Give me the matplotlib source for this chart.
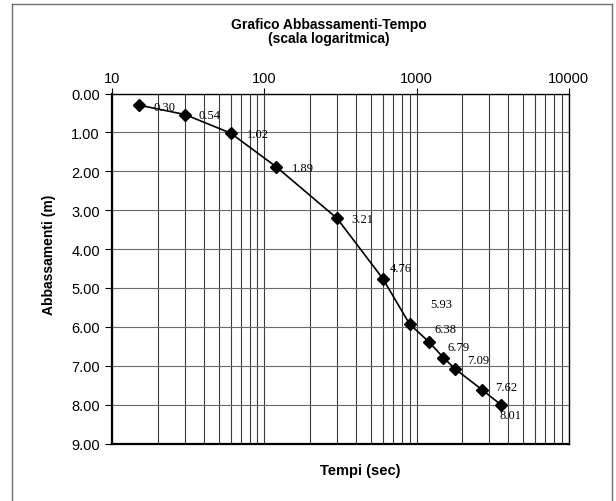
import matplotlib
matplotlib.use("Agg")
import matplotlib.pyplot as plt
from matplotlib.ticker import FixedLocator, FuncFormatter, LogLocator, NullFormatter
from matplotlib.lines import Line2D

# ---- data ----
tempi_sec = [15, 30, 60, 120, 300, 600, 900, 1200, 1500, 1800, 2700, 3600]
abbassamenti_m = [0.30, 0.54, 1.02, 1.89, 3.21, 4.76, 5.93, 6.38, 6.79, 7.09, 7.62, 8.01]
x_ticks = [10, 100, 1000, 10000]
y_ticks = [0, 1, 2, 3, 4, 5, 6, 7, 8, 9]

title_line1 = "Grafico Abbassamenti-Tempo"
title_line2 = "(scala logaritmica)"
x_title = "Tempi (sec)"
y_title = "Abbassamenti (m)"

# label offsets in pixels (dx right, dy up) -- layout only
label_offsets = [(14, -2), (14, -1), (16, -1), (15, -1), (14, -1), (7, 11),
                 (21, 20), (6, 13), (4, 11), (12, 9), (13, 3), (-2, -10)]

W, H = 616, 502
fig = plt.figure(figsize=(W / 100, H / 100), dpi=100)
fig.patch.set_facecolor("white")

ax_l, ax_r, ax_t, ax_b = 112.3, 568.7, 94.5, 444.5
ax = fig.add_axes([ax_l / W, 1 - ax_b / H, (ax_r - ax_l) / W, (ax_b - ax_t) / H])

ax.set_xscale("log")
ax.set_xlim(10, 10000)
ax.set_ylim(9, 0)

ax.xaxis.set_major_locator(FixedLocator(x_ticks))
ax.xaxis.set_major_formatter(FuncFormatter(lambda v, p: f"{int(round(v))}"))
ax.xaxis.set_minor_locator(LogLocator(base=10, subs=range(2, 10)))
ax.xaxis.set_minor_formatter(NullFormatter())
ax.yaxis.set_major_locator(FixedLocator(y_ticks))
ax.yaxis.set_major_formatter(FuncFormatter(lambda v, p: f"{v:.2f}"))

ax.xaxis.tick_top()
ax.tick_params(axis="x", which="major", direction="out", length=4, width=0.8,
               pad=2, labelsize=10.5, colors="black")
ax.tick_params(axis="x", which="minor", length=0)
ax.tick_params(axis="y", which="major", direction="out", length=5, width=0.8,
               pad=4, labelsize=10.5, colors="black")
for lab in ax.get_xticklabels() + ax.get_yticklabels():
    lab.set_fontfamily("Liberation Sans")

ax.grid(True, axis="x", which="both", color="#3c3c3c", linewidth=0.8)
ax.grid(True, axis="y", which="major", color="#6a6a6a", linewidth=0.8)
ax.set_axisbelow(True)

for side in ["top", "right"]:
    ax.spines[side].set_linewidth(1.0)
    ax.spines[side].set_color("black")
for side in ["left", "bottom"]:
    ax.spines[side].set_linewidth(1.6)
    ax.spines[side].set_color("black")

ax.plot(tempi_sec, abbassamenti_m, color="black", linewidth=1.2,
        marker="D", markersize=6.5, markerfacecolor="black",
        markeredgecolor="black", zorder=3)

for x, y, (dx, dy) in zip(tempi_sec, abbassamenti_m, label_offsets):
    ax.annotate(f"{y:.2f}", (x, y), xytext=(dx, dy), textcoords="offset pixels",
                ha="left", va="center", fontsize=9, family="Liberation Serif",
                color="black", zorder=4)

# titles
fig.text(329 / W, 1 - 25 / H, title_line1, ha="center", va="center",
         fontsize=10, fontweight="bold", family="Liberation Sans")
fig.text(329 / W, 1 - 38.5 / H, title_line2, ha="center", va="center",
         fontsize=10, fontweight="bold", family="Liberation Sans")
fig.text(360 / W, 1 - 471.5 / H, x_title, ha="center", va="center",
         fontsize=10.5, fontweight="bold", family="Liberation Sans")
fig.text(49.5 / W, 1 - 255 / H, y_title, ha="center", va="center", rotation=90,
         fontsize=10, fontweight="bold", family="Liberation Sans")

# chart border (left, top, right)
bc = "#707070"
fig.add_artist(Line2D([12 / W, 12 / W], [0, 1 - 4.5 / H], transform=fig.transFigure, color=bc, lw=1.0))
fig.add_artist(Line2D([12 / W, 612 / W], [1 - 4.5 / H, 1 - 4.5 / H], transform=fig.transFigure, color=bc, lw=1.0))
fig.add_artist(Line2D([612 / W, 612 / W], [0, 1 - 4.5 / H], transform=fig.transFigure, color=bc, lw=1.0))

fig.savefig("out.png", dpi=100, facecolor="white")
